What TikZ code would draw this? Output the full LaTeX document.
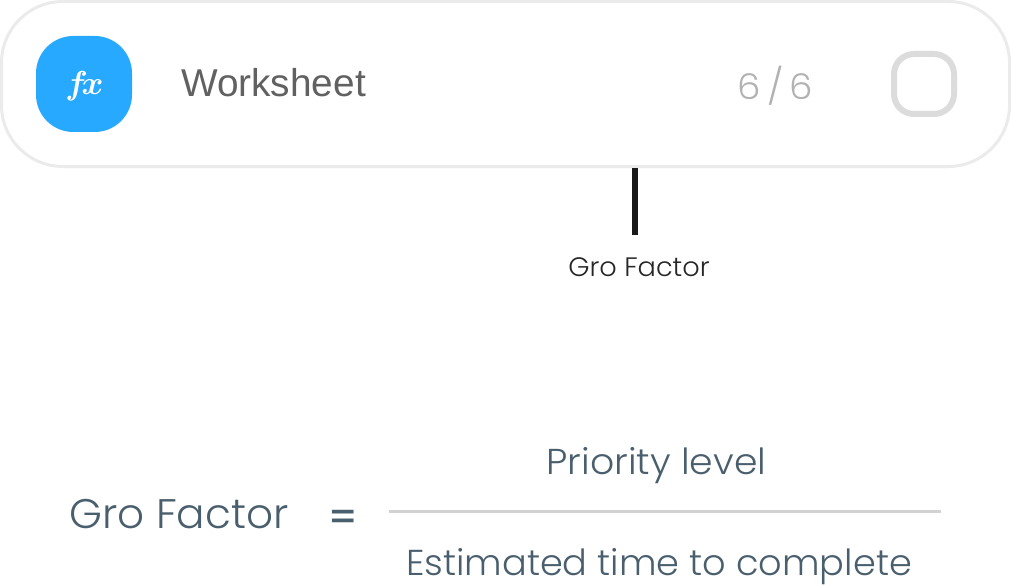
\documentclass[tikz,border=0pt]{standalone}
\usepackage{fontspec}
\setmainfont{Poppins}[UprightFont=* Light]
\newfontfamily\arialf{Liberation Sans}
\newfontfamily\lhsf{Poppins}[UprightFont=* Light,FakeStretch=1.02]
\newfontfamily\numf{Poppins}[UprightFont=* Light,FakeStretch=1.05]
\newfontfamily\eqf{Poppins}[UprightFont=* Medium,FakeStretch=1.05]
\definecolor{cardline}{HTML}{EBEBEB}
\definecolor{iconblue}{HTML}{26A9FF}
\definecolor{boxline}{HTML}{DCDCDC}
\definecolor{slate}{HTML}{4A5F6D}
\definecolor{rulegrey}{HTML}{D2D2D2}
\tikzset{
  px/.style={x=0.75pt,y=-0.75pt},
  txt/.style={inner sep=0pt,outer sep=0pt,anchor=base},
  form/.style={txt,text=slate},
  card/.style={draw=cardline,line width=2.25pt,fill=white,rounded corners=46pt,minimum width=756pt,minimum height=123.75pt,inner sep=0pt,outer sep=0pt,anchor=north west},
  icon/.style={fill=iconblue,rounded corners=28pt,minimum size=72pt,inner sep=0pt,outer sep=0pt,anchor=north west},
  tick/.style={draw=boxline,line width=4.5pt,rounded corners=15pt,minimum size=45pt,inner sep=0pt,outer sep=0pt,anchor=center},
  bar/.style={draw=black!90,line width=4.5pt},
  rulebar/.style={draw=rulegrey,line width=2.25pt}
}
\begin{document}
\begin{tikzpicture}[px]
\useasboundingbox (0,0) rectangle (1011,585);
\node[card] (card) at (1.5,1.5) {};
\node[icon] (icon) at (36,36) {};
\node[txt,text=white,font=\fontsize{29}{29}\selectfont\boldmath] (fx) at (84.5,95) {$f\!x$};
\node[txt,text=black!62,font=\arialf\fontsize{29.1}{29.1}\selectfont] (ws) at (273.5,97) {Worksheet};
\node[txt,text=black!30,font=\numf\fontsize{26.6}{26.6}\selectfont] (count) at (775.5,100) {6\,/\,6};
\node[tick] (box) at (924,84) {};
\coordinate (barTop) at (635,168);
\coordinate (barEnd) at (635,235);
\draw[bar] (barTop) -- (barEnd);
\node[txt,text=black!85,font=\lhsf\fontsize{20}{20}\selectfont] (gro) at (639,276) {Gro Factor};
\node[form,font=\lhsf\fontsize{31}{31}\selectfont] (lhs) at (179,528) {Gro Factor};
\node[form,font=\eqf\fontsize{29}{29}\selectfont] (eq) at (343.5,530) {=};
\node[form,font=\numf\fontsize{27}{27}\selectfont] (num) at (656.5,474) {Priority level};
\coordinate (ruleL) at (389,511);
\coordinate (ruleR) at (941,511);
\draw[rulebar] (ruleL) -- (ruleR);
\node[form,font=\lhsf\fontsize{27}{27}\selectfont] (den) at (659,575) {Estimated time to complete};
\end{tikzpicture}
\end{document}
